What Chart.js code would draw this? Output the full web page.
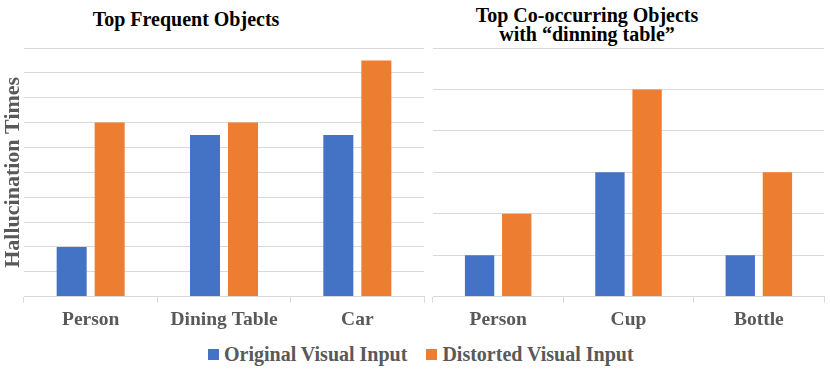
<!DOCTYPE html>
<html>
<head>
<meta charset="utf-8">
<script src="https://cdn.jsdelivr.net/npm/chart.js@4.4.1/dist/chart.umd.min.js"></script>
<style>
  body { margin: 0; width: 830px; height: 375px; background: #fff; position: relative; overflow: hidden; font-family: "Liberation Serif", "Times New Roman", serif; }
  .wrap { position: absolute; top: 0; }
  .title { position: absolute; font-weight: bold; font-size: 20px; line-height: 19px; color: #000; text-align: center; white-space: nowrap; transform: translateX(-50%); }
  #legend { position: absolute; top: 344px; left: 208px; font-weight: bold; font-size: 20px; color: #595959; white-space: nowrap; line-height: 20px; }
  #legend span.box { display: inline-block; width: 11px; height: 11px; margin-right: 5px; vertical-align: 1px; }
  #legend span.item { margin-right: 19px; }
</style>
</head>
<body>
<div class="title" style="left:186px; top:10px;">Top Frequent Objects</div>
<div class="title" style="left:587px; top:6px;">Top Co-occurring Objects<br>with “dinning table”</div>
<div class="wrap" style="left:0; width:428px; height:340px;"><canvas id="left"></canvas></div>
<div class="wrap" style="left:428px; width:402px; height:340px;"><canvas id="right"></canvas></div>
<div id="legend"></div>
<script>
const seriesNames = ['Original Visual Input', 'Distorted Visual Input'];
const seriesColors = ['#4472C4', '#ED7D31'];

// Top frequent objects
const freqLabels = ['Person', 'Dining Table', 'Car'];
const freqOriginal = [2, 6.5, 6.5];
const freqDistorted = [7, 7, 9.5];

// Co-occurring with "dinning table"
const coLabels = ['Person', 'Cup', 'Bottle'];
const coOriginal = [1, 3, 1];
const coDistorted = [2, 5, 3];

const grey = '#595959';
const gridColor = '#d9d9d9';

function makeChart(id, labels, a, b, yMax, showTitle, padding) {
  return new Chart(document.getElementById(id), {
    type: 'bar',
    data: {
      labels: labels,
      datasets: [
        { label: seriesNames[0], data: a, backgroundColor: seriesColors[0], categoryPercentage: 0.57, barPercentage: 0.79 },
        { label: seriesNames[1], data: b, backgroundColor: seriesColors[1], categoryPercentage: 0.57, barPercentage: 0.79 }
      ]
    },
    options: {
      responsive: true,
      maintainAspectRatio: false,
      animation: false,
      layout: { padding: padding },
      plugins: { legend: { display: false }, tooltip: { enabled: false } },
      scales: {
        x: {
          grid: { offset: true, drawOnChartArea: false, drawTicks: true, tickLength: 6, color: gridColor },
          border: { display: true, color: gridColor },
          ticks: { color: grey, padding: 6, font: { family: 'Liberation Serif', size: 19.5, weight: 'bold' } }
        },
        y: {
          min: 0,
          max: yMax,
          grid: { color: gridColor, drawTicks: false },
          border: { display: false },
          ticks: { display: false, stepSize: 1 },
          title: {
            display: showTitle,
            text: 'Hallucination Times',
            color: grey,
            padding: { top: 0, bottom: 0 },
            font: { family: 'Liberation Serif', size: 22, weight: 'bold', lineHeight: 1 }
          }
        }
      }
    }
  });
}

makeChart('left', freqLabels, freqOriginal, freqDistorted, 10, true, { top: 48, left: 2, right: 4, bottom: 2 });
makeChart('right', coLabels, coOriginal, coDistorted, 6, false, { top: 48, left: 5, right: 6, bottom: 2 });

// shared legend under both charts
const legend = document.getElementById('legend');
seriesNames.forEach((name, i) => {
  const item = document.createElement('span');
  item.className = 'item';
  item.innerHTML = '<span class="box" style="background:' + seriesColors[i] + '"></span>' + name;
  legend.appendChild(item);
});
</script>
</body>
</html>
